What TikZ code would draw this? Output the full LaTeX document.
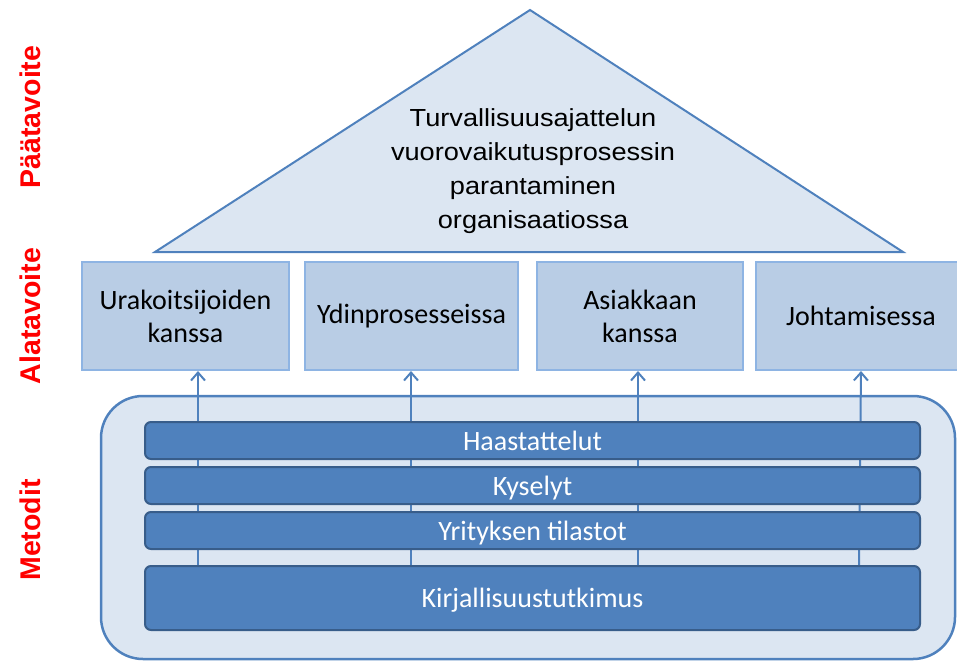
\documentclass[tikz,border=0pt]{standalone}
\usepackage{fontspec}
\setmainfont{Liberation Sans}
\newfontfamily\calib{Carlito}
\usetikzlibrary{arrows.meta}
\definecolor{triFill}{HTML}{DCE6F2}
\definecolor{mainBlue}{HTML}{4F81BD}
\definecolor{boxFill}{HTML}{B9CDE5}
\definecolor{boxLine}{HTML}{8EB4E3}
\definecolor{barLine}{HTML}{385D8A}
\tikzset{
  goalbox/.style={draw=boxLine, line width=2pt, fill=boxFill, minimum width=207pt, minimum height=108pt, align=center, font=\calib\fontsize{28}{33}\selectfont, inner sep=0pt},
  bar/.style={draw=barLine, line width=2pt, fill=mainBlue, rounded corners=6pt, minimum width=775pt, text=white, font=\calib\fontsize{28}{30}\selectfont, inner sep=0pt, text height=19pt, text depth=0pt},
  sidelabel/.style={rotate=90, text=red, font=\bfseries\fontsize{28.5}{30}\selectfont},
  uparrow/.style={draw=mainBlue, line width=2pt, -{Straight Barb[length=8pt,width=14pt,line width=2pt]}}
}
\begin{document}
\begin{tikzpicture}[x=1pt,y=-1pt]
\useasboundingbox (0,0) rectangle (957,661);
\begin{scope}
\clip (0,0) rectangle (957,661);
% outer methods container
\draw[draw=mainBlue, line width=2.5pt, fill=triFill, rounded corners=42pt] (101,396) rectangle (955,659);
\end{scope}
% triangle
\draw[draw=mainBlue, line width=2pt, fill=triFill] (530,10) -- (903,252) -- (155,252) -- cycle;
\node[align=center, xscale=1.1, font=\fontsize{24.7}{34}\selectfont] (goal) at (533,171) {Turvallisuusajattelun\\vuorovaikutusprosessin\\parantaminen\\organisaatiossa};
% goal boxes
\node[goalbox, minimum width=207pt] (b1) at (185.5,316) {Urakoitsijoiden\\kanssa};
\node[goalbox, minimum width=213pt] (b2) at (411.5,316) {Ydinprosesseissa};
\node[goalbox, minimum width=206pt] (b3) at (640,316) {Asiakkaan\\kanssa};
\node[goalbox, minimum width=210pt] (b4) at (861,316) {Johtamisessa};
% arrow anchors
\coordinate (s1) at (198,567);
\coordinate (s2) at (411,567);
\coordinate (s3) at (638,567);
\coordinate (s4) at (859,567);
\draw[uparrow] (s1) -- (b1.south -| s1);
\draw[uparrow] (s2) -- (b2.south -| s2);
\draw[uparrow] (s3) -- (b3.south -| s3);
\draw[uparrow] (s4) -- (861,371);
% bars
\node[bar, minimum height=37pt] (h) at (532.5,440.5) {Haastattelut};
\node[bar, minimum height=37pt] (k) at (532.5,485.5) {Kyselyt};
\node[bar, minimum height=37pt] (y) at (532.5,530.5) {Yrityksen tilastot};
\node[bar, minimum height=64pt] (l) at (532.5,598) {Kirjallisuustutkimus};
% side labels
\node[sidelabel] (p) at (30,117) {Päätavoite};
\node[sidelabel] (a) at (30,316) {Alatavoite};
\node[sidelabel] (m) at (30,530) {Metodit};
\end{tikzpicture}
\end{document}
